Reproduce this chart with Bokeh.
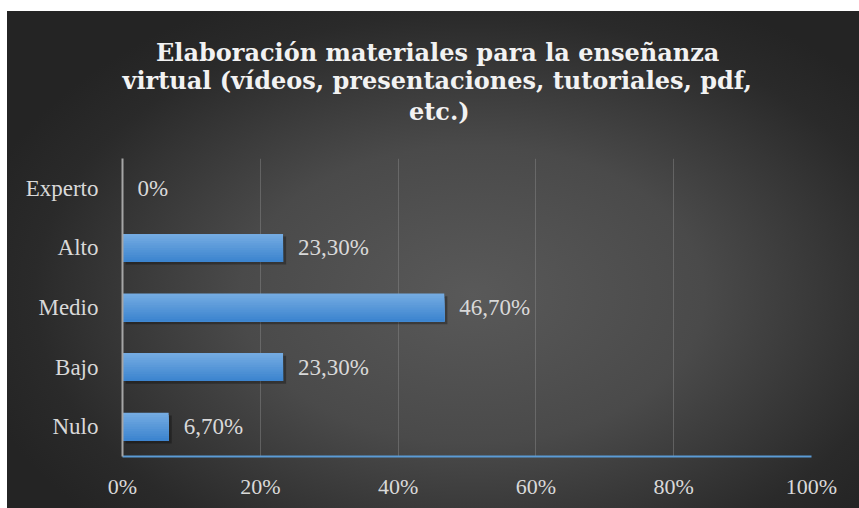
from bokeh.plotting import figure
from bokeh.models import (ColumnDataSource, FactorRange, FixedTicker, PrintfTickFormatter, Title, LabelSet,
                          ColorBar, LinearColorMapper)
from bokeh.transform import dodge
from bokeh.embed import file_html
from bokeh.resources import INLINE

categories = ["Nulo", "Bajo", "Medio", "Alto", "Experto"]
values = [6.7, 23.3, 46.7, 23.3, 0.0]
value_labels = ["6,70%", "23,30%", "46,70%", "23,30%", "0%"]
x_ticks = [0, 20, 40, 60, 80, 100]
title_lines = ["Elaboración materiales para la enseñanza",
               "virtual (vídeos, presentaciones, tutoriales, pdf,",
               "etc.)"]
# approximate rendered width of each title line, used to centre the left-aligned lines
title_widths = [563, 630, 57]

src = ColumnDataSource(dict(cat=categories, v=values, lab=value_labels, zero=[0] * len(values)))

FRAME_LEFT = 122
TITLE_CX = 437

p = figure(width=859, height=508, y_range=FactorRange(factors=categories, range_padding=0),
           x_range=(0, 100), output_backend="svg", toolbar_location=None, title=None,
           min_border_left=FRAME_LEFT, min_border_right=48, min_border_top=158, min_border_bottom=52)

p.styles = {
    "background": ("linear-gradient(#ffffff, #ffffff) 0 0 / 7px 100% no-repeat, "
                   "linear-gradient(#ffffff, #ffffff) 0 0 / 100% 11px no-repeat, "
                   "radial-gradient(ellipse 60% 65% at 55% 58%, #595959 0%, #4a4a4a 45%, #2a2a2a 85%, #242424 100%)")
}
p.background_fill_alpha = 0
p.border_fill_alpha = 0
p.outline_line_color = None

# invisible colour bar used only as a spacer between the frame and the title
spacer = ColorBar(color_mapper=LinearColorMapper(palette=["#000000"], low=0, high=1),
                  ticker=FixedTicker(ticks=[], minor_ticks=[]), height=31, margin=0, padding=0,
                  scale_alpha=0, background_fill_alpha=0, border_line_color=None, bar_line_color=None,
                  major_tick_line_color=None, minor_tick_line_color=None)
p.add_layout(spacer, "above")
# title lines, added from the frame outward
for k, (line, w) in enumerate(zip(reversed(title_lines), reversed(title_widths))):
    p.add_layout(Title(text=line, align="left", offset=TITLE_CX - w / 2 - FRAME_LEFT,
                       text_font="DejaVu Serif", text_font_style="bold", text_font_size="24px",
                       text_color="#f2f2f2", standoff=(3 if k == 0 else -3)), "above")

bar_h = 0.47
# shadow
p.hbar(y=dodge("cat", -0.045, range=p.y_range), left=dodge("zero", 0.45), right=dodge("v", 0.45), height=bar_h,
       source=src, fill_color="black", fill_alpha=0.3, line_color=None)

# vertical gradient on bars: successive layers, each covering the rest of the bar below
n = 12
c_top = (0x74, 0xab, 0xe2)
c_bot = (0x3d, 0x85, 0xcf)
for i in range(n):
    f = i / (n - 1)
    col = "#%02x%02x%02x" % tuple(int(round(a + (b - a) * f)) for a, b in zip(c_top, c_bot))
    hh = bar_h * (n - i) / n
    off = -bar_h / 2 + hh / 2
    p.hbar(y=dodge("cat", off, range=p.y_range), left=0, right="v", height=hh, source=src,
           fill_color=col, line_color=None)

labels = LabelSet(x="v", y="cat", text="lab", source=src, x_offset=15, text_baseline="middle",
                  text_font="Liberation Serif", text_font_size="23px", text_color="#d9d9d9")
p.add_layout(labels)

xax = p.below[0]
yax = p.left[0]
xax.ticker = FixedTicker(ticks=x_ticks)
xax.formatter = PrintfTickFormatter(format="%d%%")
yax.axis_line_color = "#a6a6a6"
yax.axis_line_width = 2
for ax in (xax, yax):
    ax.major_tick_line_color = None
    ax.minor_tick_line_color = None
    ax.major_label_text_font = "Liberation Serif"
    ax.major_label_text_color = "#d9d9d9"
xax.axis_line_color = "#5b9bd5"
xax.axis_line_width = 2
yax.major_label_text_font_size = "23px"
xax.major_label_text_font_size = "22px"
xax.major_label_standoff = 11
yax.major_label_standoff = 18

p.xgrid.ticker = FixedTicker(ticks=x_ticks)
p.xgrid.grid_line_color = "#8c8c8c"
p.xgrid.grid_line_alpha = 0.45
p.ygrid.grid_line_color = None

open("out.html", "w").write(file_html(p, INLINE))
